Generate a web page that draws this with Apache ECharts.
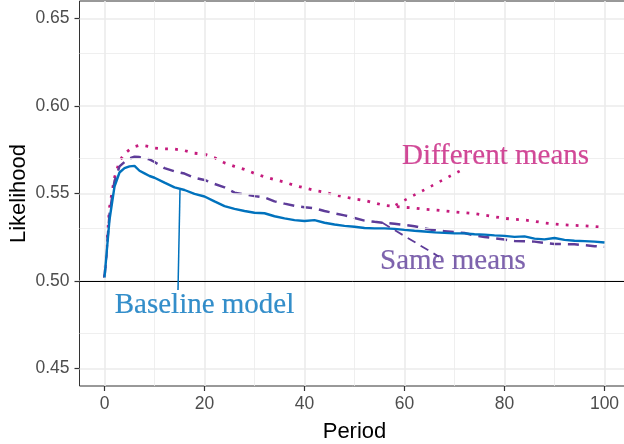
<!DOCTYPE html>
<html style="height: 100%">
<head>
    <meta charset="utf-8">
</head>
<body style="height: 100%; margin: 0; background: #fff">
<div id="container" style="width: 624px; height: 444px"></div>
<script src="https://cdn.jsdelivr.net/npm/echarts@6/dist/echarts.min.js"></script>
<script type="text/javascript">
    // periods
    var periods = [0, 1, 2, 3, 4, 5, 6, 7, 8, 9, 10, 12, 14, 16, 18, 20, 22, 24, 26, 28, 30,
        32, 34, 36, 38, 40, 42, 44, 46, 48, 50, 52, 54, 56, 58, 60, 62, 64, 66, 68, 70,
        72, 74, 76, 78, 80, 82, 84, 86, 88, 90, 92, 94, 96, 98, 100];

    var baseline = [0.502, 0.535, 0.554, 0.562, 0.5645, 0.5655, 0.5658, 0.563, 0.5615, 0.560, 0.559,
        0.5562, 0.5535, 0.552, 0.5498, 0.5483, 0.5455, 0.5428, 0.5412, 0.540, 0.539,
        0.5387, 0.537, 0.5358, 0.5348, 0.5343, 0.5348, 0.5333, 0.5323, 0.5315, 0.531,
        0.5303, 0.5301, 0.5301, 0.5298, 0.5292, 0.5287, 0.5283, 0.5278, 0.5275, 0.5272,
        0.5272, 0.5267, 0.5265, 0.5261, 0.5258, 0.5252, 0.5255, 0.5242, 0.5238, 0.5246,
        0.5235, 0.523, 0.5228, 0.5225, 0.522];

    var sameMeans = [0.502, 0.538, 0.557, 0.5655, 0.568, 0.570, 0.571, 0.5708, 0.5702, 0.5695, 0.568,
        0.5645, 0.5627, 0.5614, 0.559, 0.5577, 0.5555, 0.5535, 0.5505, 0.5495, 0.5485,
        0.5478, 0.5455, 0.5442, 0.543, 0.5422, 0.5415, 0.540, 0.5387, 0.5375, 0.536,
        0.5345, 0.5338, 0.5332, 0.5327, 0.532, 0.5313, 0.530, 0.529, 0.5285, 0.528,
        0.5274, 0.526, 0.5252, 0.5244, 0.5237, 0.5229, 0.5227, 0.5225, 0.5218, 0.5212,
        0.5211, 0.521, 0.5205, 0.5199, 0.5195];

    var diffMeans = [0.502, 0.542, 0.559, 0.5685, 0.5728, 0.575, 0.5767, 0.5775, 0.5773, 0.5768, 0.576,
        0.5755, 0.5754, 0.5745, 0.573, 0.5725, 0.5705, 0.5675, 0.5655, 0.5638, 0.5615,
        0.5595, 0.558, 0.5565, 0.5546, 0.5532, 0.5518, 0.5508, 0.5492, 0.5481, 0.5469,
        0.546, 0.5446, 0.5432, 0.5426, 0.5421, 0.5417, 0.541, 0.5406, 0.5401, 0.5395,
        0.539, 0.5385, 0.5376, 0.5367, 0.5358, 0.5353, 0.5349, 0.5341, 0.5332, 0.5326,
        0.5321, 0.5318, 0.5315, 0.5311, 0.5306];

    // axis ticks and grid lines
    var xTicks = [0, 20, 40, 60, 80, 100];
    var xMinor = [10, 30, 50, 70, 90];
    var yTicks = [0.45, 0.50, 0.55, 0.60, 0.65];
    var yMinor = [0.475, 0.525, 0.575, 0.625];

    // label texts, where they sit and the pointer segments (data coords)
    var labelNames = ['Different means', 'Same means', 'Baseline model'];
    var labelAt = [[78.2, 0.5710], [69.7, 0.5110], [20.0, 0.4863]];
    var pointers = [
        [[58.2, 0.5434], [72.2, 0.5646]],
        [[55.5, 0.5334], [66.9, 0.5139]],
        [[15.1, 0.5520], [14.7, 0.4949]]
    ];

    var colors = ['#C51B7D', '#5E3C99', '#0072BD'];
    var serif = 'Liberation Serif';
    var sans = 'Liberation Sans';

    function zip(ys) {
        return periods.map(function (p, i) { return [p, ys[i]]; });
    }

    var gridLines = [];
    xTicks.forEach(function (v) { gridLines.push({xAxis: v, lineStyle: {width: 1.6}}); });
    yTicks.forEach(function (v) { gridLines.push({yAxis: v, lineStyle: {width: 1.6}}); });
    xMinor.forEach(function (v) { gridLines.push({xAxis: v, lineStyle: {width: 0.8}}); });
    yMinor.forEach(function (v) { gridLines.push({yAxis: v, lineStyle: {width: 0.8}}); });

    var dom = document.getElementById("container");
    var myChart = echarts.init(dom, null, {renderer: 'canvas'});

    var series = [
        {
            type: 'line', data: [], z: 1, silent: true,
            markLine: {
                silent: true, symbol: 'none', label: {show: false}, animation: false,
                lineStyle: {color: '#EBEBEB', type: 'solid'},
                data: gridLines
            }
        },
        {
            type: 'line', data: [], z: 2, silent: true,
            markLine: {
                silent: true, symbol: 'none', label: {show: false}, animation: false,
                lineStyle: {color: '#000', type: 'solid', width: 1},
                data: [{yAxis: 0.5}]
            }
        },
        {
            name: 'Different means', type: 'line', data: zip(diffMeans), symbol: 'none', z: 3,
            lineStyle: {color: colors[0], width: 2.8, type: [2.8, 7.2], cap: 'butt'}
        },
        {
            name: 'Same means', type: 'line', data: zip(sameMeans), symbol: 'none', z: 4,
            lineStyle: {color: colors[1], width: 2.5, type: [11, 7]}
        },
        {
            name: 'Baseline model', type: 'line', data: zip(baseline), symbol: 'none', z: 5,
            lineStyle: {color: colors[2], width: 2.4, type: 'solid'}
        }
    ];

    var pointerStyles = [
        {width: 2.6, type: [2.6, 7.4]},
        {width: 1.8, type: [9, 6]},
        {width: 1.5, type: 'solid'}
    ];
    pointers.forEach(function (seg, i) {
        series.push({
            type: 'line', data: seg, symbol: 'none', z: 6, silent: true,
            lineStyle: Object.assign({color: colors[i]}, pointerStyles[i])
        });
        series.push({
            type: 'scatter', data: [labelAt[i]], symbolSize: 0, z: 7, silent: true,
            itemStyle: {color: colors[i]},
            label: {
                show: true, position: 'inside', formatter: labelNames[i],
                fontFamily: serif, fontSize: 29, color: colors[i],
                textBorderWidth: 0.2, textBorderColor: colors[i]
            }
        });
    });

    var option = {
        animation: false,
        backgroundColor: '#fff',
        grid: {
            left: 79.5, top: 1, width: 550, height: 385,
            outerBoundsMode: 'none', containLabel: false,
            show: true, borderColor: '#333333', borderWidth: 1, backgroundColor: '#fff'
        },
        xAxis: {
            type: 'value', min: -5, max: 105,
            name: 'Period', nameLocation: 'middle', nameGap: 35,
            nameTextStyle: {fontFamily: sans, fontSize: 22, color: '#000'},
            axisLine: {show: false, onZero: false},
            axisTick: {show: true, length: 5, customValues: xTicks, lineStyle: {color: '#333333', width: 1.2}},
            axisLabel: {customValues: xTicks, margin: 9, fontFamily: sans, fontSize: 17.5, color: '#4D4D4D'},
            splitLine: {show: false}
        },
        yAxis: {
            type: 'value', min: 0.44, max: 0.66,
            name: 'Likelihood', nameLocation: 'middle', nameGap: 50, nameMoveOverlap: false,
            nameTextStyle: {fontFamily: sans, fontSize: 22, color: '#000'},
            axisLine: {show: false, onZero: false},
            axisTick: {show: true, length: 5, customValues: yTicks, lineStyle: {color: '#333333', width: 1.2}},
            axisLabel: {
                customValues: yTicks, margin: 10, fontFamily: sans, fontSize: 17.5, color: '#4D4D4D',
                formatter: function (v) { return v.toFixed(2); }
            },
            splitLine: {show: false}
        },
        series: series
    };
    myChart.setOption(option, true);
</script>
</body>
</html>
